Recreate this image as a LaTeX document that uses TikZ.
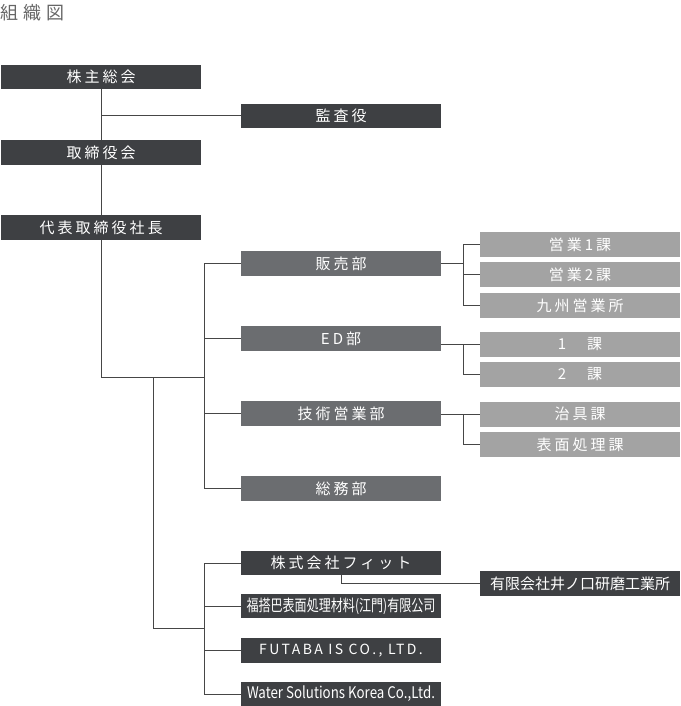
\documentclass[tikz,border=0pt]{standalone}
\usepackage{fontspec}
\usepackage{graphicx}
\usetikzlibrary{positioning}
\newfontfamily\jpfont[LetterSpace=20]{Noto Sans CJK JP}
\newfontfamily\titlefont[LetterSpace=30]{Noto Sans CJK JP}
\newfontfamily\enfont[LetterSpace=17]{Noto Sans CJK JP}
\newfontfamily\jpplain{Noto Sans CJK JP}
\definecolor{BoxDark}{RGB}{62,64,67}
\definecolor{BoxMid}{RGB}{107,109,112}
\definecolor{BoxLight}{RGB}{163,163,163}
\definecolor{LineGray}{RGB}{70,70,70}
\definecolor{TitleGray}{RGB}{102,102,102}

\begin{document}
\begin{tikzpicture}[x=1pt, y=-1pt,
    orgbox/.style={rectangle, inner sep=0pt, minimum width=200pt, minimum height=24.5pt,
                 text=white, font=\jpfont\fontsize{15}{18}\selectfont},
    topbox/.style={orgbox, fill=BoxDark},
    deptbox/.style={orgbox, fill=BoxMid},
    sectbox/.style={orgbox, fill=BoxLight, minimum height=25pt},
    link/.style={draw=LineGray, line width=1pt}
]
    \useasboundingbox (0,0) rectangle (680,706);
    \node[anchor=west, inner sep=0pt, text=TitleGray,
          font=\titlefont\fontsize{18}{20}\selectfont] (title) at (0,12.5) {組織図};

    % top management
    \node[topbox] (meeting) at (101,77) {株主総会};
    \node[topbox] (auditor) at (341,116) {監査役};
    \node[topbox] (board) at (101,152.5) {取締役会};
    \node[topbox] (president) at (101,227.5) {代表取締役社長};
    \draw[link] (meeting) -- (board);
    \draw[link] (board) -- (president);
    \draw[link] (auditor.west) -- (auditor.west -| meeting.south);

    % departments
    \node[deptbox] (sales) at (341,263.5) {販売部};
    \node[deptbox] (ed) at (341,338.5) {ED部};
    \node[deptbox] (tech) at (341,413.5) {技術営業部};
    \node[deptbox] (general) at (341,488.5) {総務部};
    \coordinate (deptjoin) at (205,377);
    \coordinate (subjoin) at (205,628);
    \coordinate (subbranch) at (153,377);
    \draw[link] (president.south) |- (deptjoin);
    \draw[link] (sales.west) -- ++(-36,0) |- (general.west);
    \draw[link] (ed.west) -- ++(-36,0);
    \draw[link] (tech.west) -- ++(-36,0);
    \draw[link] (subbranch) |- (subjoin);

    % sections
    \node[sectbox] (sales1) at (580,244.5) {営業1課};
    \node[sectbox, below=5pt of sales1] (sales2) {営業2課};
    \node[sectbox, below=5pt of sales2] (kyushu) {九州営業所};
    \node[sectbox] (ed1) at (580,344) {1　課};
    \node[sectbox, below=5pt of ed1] (ed2) {2　課};
    \node[sectbox] (jig) at (580,414) {治具課};
    \node[sectbox, below=5pt of jig] (surface) {表面処理課};
    \draw[link] (sales.east) -- ++(23,0);
    \draw[link] (sales1.west) -- ++(-16,0) |- (kyushu.west);
    \draw[link] (sales2.west) -- ++(-16,0);
    \draw[link] (ed1.west) -- (ed1.west -| ed.east);
    \draw[link] (ed1.west) -- ++(-16,0) |- (ed2.west);
    \draw[link] (jig.west) -- (jig.west -| tech.east);
    \draw[link] (jig.west) -- ++(-16,0) |- (surface.west);

    % group companies
    \node[topbox] (fit) at (341,563) {株式会社フィット};
    \node[topbox] (china) at (341,606)
        {\jpplain\fontsize{16}{18}\selectfont\resizebox{189pt}{\height}{福搭巴表面処理材料(江門)有限公司}};
    \node[topbox, font=\enfont\fontsize{14}{16}\selectfont] (futaba) at (341,650.5) {FUTABA IS CO., LTD.};
    \node[topbox] (korea) at (341,694)
        {\jpplain\fontsize{16}{18}\selectfont\resizebox{188pt}{\height}{Water Solutions Korea Co.,Ltd.}};
    \node[topbox, font=\jpplain\fontsize{15}{18}\selectfont] (inokuchi) at (580,583.5) {有限会社井ノ口研磨工業所};
    \draw[link] (fit.west) -- ++(-36,0) |- (korea.west);
    \draw[link] (china.west) -- ++(-36,0);
    \draw[link] (futaba.west) -- ++(-36,0);
    \draw[link] (fit.south) |- (inokuchi.west);
\end{tikzpicture}
\end{document}
